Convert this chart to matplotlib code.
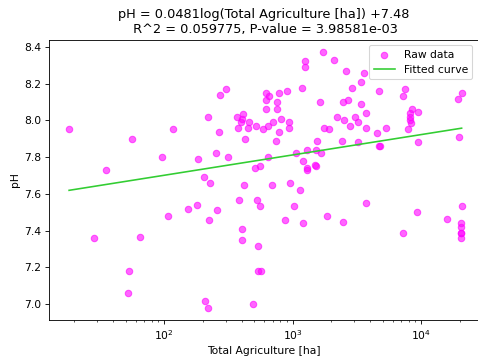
import numpy as np
import matplotlib
matplotlib.use("Agg")
import matplotlib.pyplot as plt

agri_ha = [
    18.2, 35.2, 56.1, 97, 118,
    28.4, 65.1, 53.7, 52.1, 107.4, 152.8,
    1706, 1245, 1245, 302, 274, 221, 265, 184, 254, 313, 205, 227, 417, 684, 957, 1143,
    511, 558, 637, 1059, 1192, 1289, 1289, 1289, 1516, 1666, 1500, 1520, 1543, 1758,
    1619, 1180, 902, 785, 614, 659, 614, 748, 622, 748, 368, 409, 403, 453, 395, 378,
    448, 520, 586, 637, 697, 809, 927, 927, 775, 745, 422,
    180, 224, 257, 384, 526, 558, 400, 400, 532, 535, 566, 207, 221, 493,
    1021, 869, 1208, 1853,
    2103, 2575, 3555, 3413, 2892, 4690, 7464, 7197, 20600, 19200, 2459, 2705, 3372,
    3713, 8511, 9354, 8110, 8200, 8110, 8250, 7925, 5309, 4520, 3713, 3048, 3195,
    2767, 2518, 2218, 1913, 2415, 3195, 4710, 4750, 9354, 19800,
    2440, 3713, 7197, 9250, 15850, 20600, 20300, 20400, 20400, 20400, 20400,
]
ph = [
    7.953, 7.73, 7.90, 7.80, 7.952,
    7.358, 7.367, 7.18, 7.06, 7.481, 7.519,
    8.371, 8.322, 8.291, 8.170, 8.140, 8.019, 7.939, 7.788, 7.821, 7.801, 7.692, 7.658, 7.650, 7.650, 7.658, 7.62,
    7.743, 7.750, 7.801, 7.823, 7.781, 7.839, 7.741, 7.730, 7.839, 7.821, 7.757, 7.750, 7.888, 7.957,
    8.099, 8.178, 8.162, 8.150, 8.150, 8.133, 8.110, 8.099, 8.061, 8.061, 8.019, 8.033, 8.006, 7.990, 7.990, 7.959,
    7.959, 7.968, 7.952, 7.968, 7.990, 8.010, 7.990, 7.959, 7.939, 7.888, 7.901,
    7.539, 7.459, 7.511, 7.568, 7.568, 7.532, 7.409, 7.350, 7.316, 7.18, 7.18, 7.020, 6.978, 6.999,
    7.532, 7.459, 7.440, 7.481,
    8.329, 8.269, 8.258, 8.211, 8.177, 8.162, 8.170, 8.133, 8.148, 8.118, 8.099, 8.110, 8.091,
    8.041, 8.061, 8.048, 8.043, 8.018, 8.002, 7.988, 7.952, 7.959, 7.930, 7.959, 8.020, 7.990,
    7.968, 8.001, 8.019, 7.952, 7.890, 7.883, 7.861, 7.861, 7.881, 7.911,
    7.449, 7.549, 7.389, 7.500, 7.462, 7.532, 7.440, 7.421, 7.389, 7.389, 7.358,
]

slope = 0.0481
intercept = 7.48

x = np.array(agri_ha)
y = np.array(ph)
x_fit = np.geomspace(x.min(), x.max(), 100)
y_fit = slope * np.log(x_fit) + intercept

# reference looks like a normal figure shrunk down, so use a low dpi
dpi = 77.5
fig = plt.figure(figsize=(478 / dpi, 363 / dpi), dpi=dpi)
ax = fig.add_axes([0.1025, 0.118, 0.897, 0.772])

ax.scatter(x, y, color="magenta", alpha=0.6, label="Raw data")
ax.plot(x_fit, y_fit, color="limegreen", label="Fitted curve")
ax.set_xscale("log")
ax.set_xlim(12.7, 27500)
ax.set_ylim(6.913, 8.438)
ax.set_xlabel("Total Agriculture [ha]")
ax.set_ylabel("pH")
ax.set_title("pH = 0.0481log(Total Agriculture [ha]) +7.48\n R^2 = 0.059775, P-value = 3.98581e-03")
ax.legend(loc="upper right")

fig.savefig("out.png", dpi=dpi)
